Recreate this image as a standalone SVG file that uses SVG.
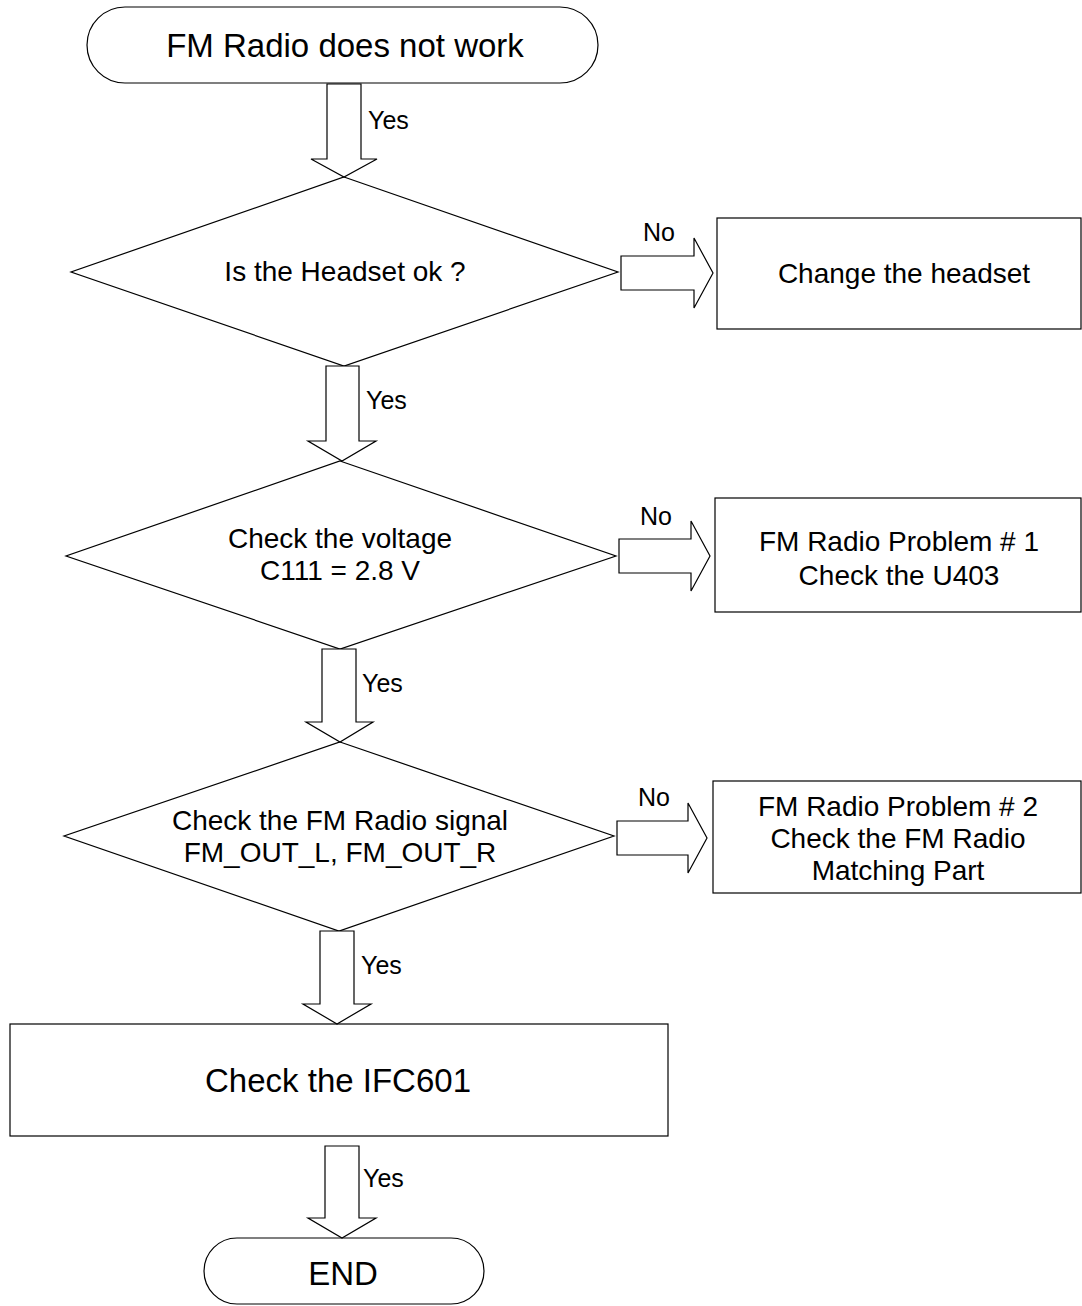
<svg xmlns="http://www.w3.org/2000/svg" width="1082" height="1306" viewBox="0 0 1082 1306">
<style>
.s{fill:#fff;stroke:#000;stroke-width:1.2}
.a{fill:#fff;stroke:#000;stroke-width:1.2;stroke-linejoin:miter}
text{font-family:"Liberation Sans",Arial,sans-serif;fill:#000}
.t{font-size:28px;text-anchor:middle}
.b{font-size:33px;text-anchor:middle}
.l{font-size:25px}
.lc{font-size:25px;text-anchor:middle}
</style>
<rect width="1082" height="1306" fill="#fff"/>
<g id="start">
<rect class="s" x="87" y="7" width="511" height="76" rx="38" ry="38"/>
<text class="b" x="345" y="57">FM Radio does not work</text>
</g>
<g id="q1">
<polygon class="s" points="344,177 618,272 344,366 71,272"/>
<text class="t" x="345" y="281">Is the Headset ok ?</text>
</g>
<g id="r1">
<rect class="s" x="717" y="218" width="364" height="111"/>
<text class="t" x="904" y="283">Change the headset</text>
</g>
<g id="q2">
<polygon class="s" points="340,461 616,556 340,649 66,556"/>
<text class="t" x="340" y="548">Check the voltage</text>
<text class="t" x="340" y="580">C111 = 2.8 V</text>
</g>
<g id="r2">
<rect class="s" x="715" y="498" width="366" height="114"/>
<text class="t" x="899" y="551">FM Radio Problem # 1</text>
<text class="t" x="899" y="585">Check the U403</text>
</g>
<g id="q3">
<polygon class="s" points="340,742 614,836 339,931 64,836"/>
<text class="t" x="340" y="830">Check the FM Radio signal</text>
<text class="t" x="340" y="862">FM_OUT_L, FM_OUT_R</text>
</g>
<g id="r3">
<rect class="s" x="713" y="781" width="368" height="112"/>
<text class="t" x="898" y="816">FM Radio Problem # 2</text>
<text class="t" x="898" y="848">Check the FM Radio</text>
<text class="t" x="898" y="880">Matching Part</text>
</g>
<g id="r4">
<rect class="s" x="10" y="1024" width="658" height="112"/>
<text class="b" x="338" y="1092">Check the IFC601</text>
</g>
<g id="end">
<rect class="s" x="204" y="1238" width="280" height="66" rx="33" ry="33"/>
<text class="b" x="343" y="1285">END</text>
</g>
<g id="connectors">
<polygon class="a" points="327,84 361,84 361,159 377,159 344,177 311,159 327,159"/>
<polygon class="a" points="326,366 359,366 359,441 376,441 342,461 308,441 326,441"/>
<polygon class="a" points="322,649 356,649 356,722 373,722 340,742 306,722 322,722"/>
<polygon class="a" points="320,931 354,931 354,1004 371,1004 337,1024 303,1004 320,1004"/>
<polygon class="a" points="325,1146 359,1146 359,1218 376,1218 342,1238 308,1218 325,1218"/>
<polygon class="a" points="621,256 694,256 694,238 713,273 694,308 694,290 621,290"/>
<polygon class="a" points="619,539 691,539 691,521 710,556 691,591 691,573 619,573"/>
<polygon class="a" points="617,821 688,821 688,803 707,838 688,873 688,855 617,855"/>
<text class="l" x="368" y="129">Yes</text>
<text class="l" x="366" y="409">Yes</text>
<text class="l" x="362" y="692">Yes</text>
<text class="l" x="361" y="974">Yes</text>
<text class="l" x="363" y="1187">Yes</text>
<text class="lc" x="659" y="241">No</text>
<text class="lc" x="656" y="525">No</text>
<text class="lc" x="654" y="806">No</text>
</g>
</svg>
